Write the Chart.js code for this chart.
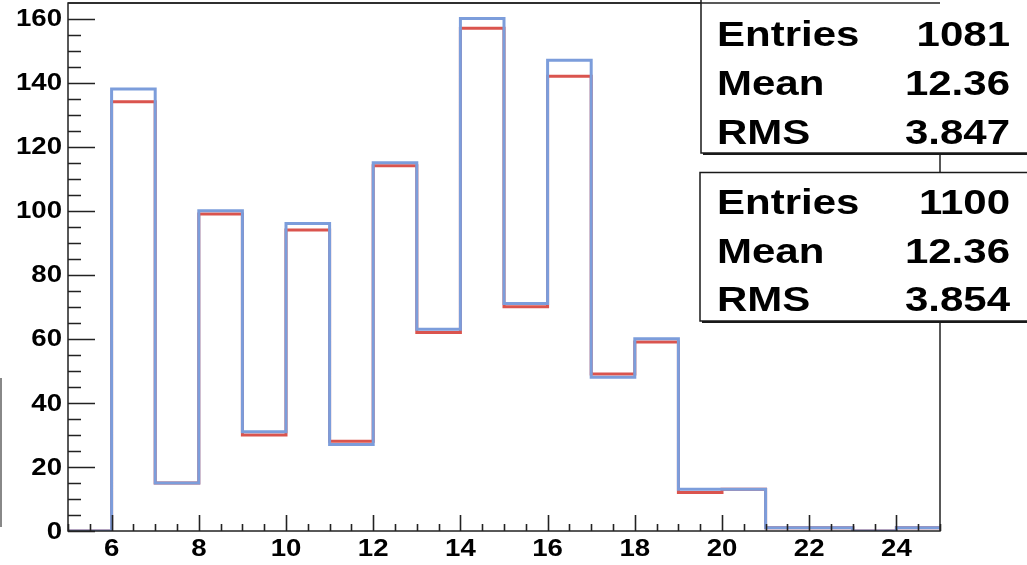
<!DOCTYPE html>
<html>
<head>
<meta charset="utf-8">
<script src="https://cdn.jsdelivr.net/npm/chart.js@4"></script>
<style>
  html, body { margin: 0; padding: 0; background: #fff; }
  #wrap { position: relative; width: 1027px; height: 565px; }
</style>
</head>
<body>
<div id="wrap"><canvas id="histChart"></canvas></div>
<script>
// bin edges (width 1) and bin contents of the two histograms
const binEdges = [5, 6, 7, 8, 9, 10, 11, 12, 13, 14, 15, 16, 17, 18, 19, 20, 21, 22, 23, 24, 25];
const countsRed = [0, 134, 15, 99, 30, 94, 28, 114, 62, 157, 70, 142, 49, 59, 12, 13, 1, 1, 0, 1];
const countsBlue = [0, 138, 15, 100, 31, 96, 27, 115, 63, 160, 71, 147, 48, 60, 13, 13, 1, 1, 0, 1];

const xTickLabels = [6, 8, 10, 12, 14, 16, 18, 20, 22, 24];
const yTickLabels = [0, 20, 40, 60, 80, 100, 120, 140, 160];

const statsRed = [['Entries', '1081'], ['Mean', '12.36'], ['RMS', '3.847']];
const statsBlue = [['Entries', '1100'], ['Mean', '12.36'], ['RMS', '3.854']];

const RED = 'rgb(218, 84, 78)';
const BLUE = 'rgb(124, 157, 219)';
const FONT = '"Liberation Sans", Arial, sans-serif';

// step outline: each edge carries the content of the bin starting there
function toSteps(counts) {
    return binEdges.map((x, i) => ({ x: x, y: counts[Math.min(i, counts.length - 1)] }));
}

// text a bit wider than the font, like the rest of the drawing
function wideText(ctx, text, x, y, align, stretch) {
    ctx.save();
    ctx.translate(x, y);
    ctx.scale(stretch, 1);
    ctx.textAlign = align;
    ctx.fillText(text, 0, 0);
    ctx.restore();
}

function drawStatsBox(ctx, rows, left, top, bottom, baselines) {
    const right = 1032;
    ctx.save();
    ctx.fillStyle = '#1a1a1a';
    ctx.fillRect(left + 2, top + 2, right - left, bottom - top);
    ctx.fillStyle = '#fff';
    ctx.fillRect(left, top, right - left, bottom - top);
    ctx.strokeStyle = '#1a1a1a';
    ctx.lineWidth = 1.5;
    ctx.strokeRect(left, top, right - left, bottom - top);

    ctx.fillStyle = '#000';
    ctx.font = 'bold 35px ' + FONT;
    ctx.textBaseline = 'alphabetic';
    rows.forEach((row, i) => {
        wideText(ctx, row[0], 717, baselines[i], 'left', 1.2);
        wideText(ctx, row[1], 1010, baselines[i], 'right', 1.2);
    });
    ctx.restore();
}

// frame, inward tick marks, axis labels and the two stats boxes
const rootFrame = {
    id: 'rootFrame',
    afterDraw(chart) {
        const ctx = chart.ctx;
        const a = chart.chartArea;
        const xs = chart.scales.x;
        const ys = chart.scales.y;
        ctx.save();
        ctx.strokeStyle = '#222';
        ctx.lineWidth = 1.5;
        ctx.strokeRect(a.left, a.top, a.right - a.left, a.bottom - a.top);

        ctx.lineWidth = 1.6;
        ctx.beginPath();
        for (let v = 0; v <= 160; v += 5) {
            const y = Math.round(ys.getPixelForValue(v)) + 0.5;
            const len = v % 20 === 0 ? 27 : 13;
            ctx.moveTo(a.left, y);
            ctx.lineTo(a.left + len, y);
        }
        for (let v = 5; v <= 25; v += 0.5) {
            const x = Math.round(xs.getPixelForValue(v)) + 0.5;
            const len = v % 2 === 0 ? 16 : 7;
            ctx.moveTo(x, a.bottom);
            ctx.lineTo(x, a.bottom - len);
        }
        ctx.stroke();

        // tick labels taken from the scales' own ticks
        ctx.fillStyle = '#000';
        ctx.font = 'bold 24px ' + FONT;
        ctx.textBaseline = 'middle';
        ys.ticks.forEach(t => {
            wideText(ctx, String(t.value), a.left - 6, ys.getPixelForValue(t.value) + 1, 'right', 1.15);
        });
        xs.ticks.forEach(t => {
            wideText(ctx, String(t.value), xs.getPixelForValue(t.value), a.bottom + 18, 'center', 1.15);
        });

        // stray axis line at the left border
        ctx.strokeStyle = '#888';
        ctx.lineWidth = 2;
        ctx.beginPath();
        ctx.moveTo(1, 378);
        ctx.lineTo(1, 527);
        ctx.stroke();
        ctx.restore();

        drawStatsBox(ctx, statsRed, 701, -6, 153, [46, 95, 144]);
        drawStatsBox(ctx, statsBlue, 700, 172.5, 321, [214, 263, 311]);

        // top frame line runs over the first box
        ctx.save();
        ctx.strokeStyle = '#222';
        ctx.lineWidth = 1.5;
        ctx.beginPath();
        ctx.moveTo(a.left, a.top);
        ctx.lineTo(a.right, a.top);
        ctx.stroke();
        ctx.restore();
    }
};

document.addEventListener('DOMContentLoaded', function () {
    const ctx = document.getElementById('histChart').getContext('2d');

    new Chart(ctx, {
        type: 'line',
        data: {
            datasets: [
                {
                    label: 'h2',
                    data: toSteps(countsBlue),
                    stepped: true,
                    borderColor: BLUE,
                    borderWidth: 3,
                    pointRadius: 0,
                    fill: false
                },
                {
                    label: 'h1',
                    data: toSteps(countsRed),
                    stepped: true,
                    borderColor: RED,
                    borderWidth: 3,
                    pointRadius: 0,
                    fill: false
                }
            ]
        },
        options: {
            responsive: true,
            maintainAspectRatio: false,
            animation: false,
            layout: { padding: { top: 3, right: 87, left: 0, bottom: 0 } },
            plugins: {
                legend: { display: false },
                tooltip: { enabled: false }
            },
            scales: {
                x: {
                    type: 'linear',
                    min: 5,
                    max: 25,
                    grid: { display: false, drawTicks: false },
                    border: { display: false },
                    ticks: { display: false },
                    afterBuildTicks(scale) {
                        scale.ticks = xTickLabels.map(v => ({ value: v }));
                    },
                    afterFit(scale) {
                        scale.height = 34;
                        scale.paddingLeft = 0;
                        scale.paddingRight = 0;
                    }
                },
                y: {
                    min: 0,
                    max: 164.85,
                    grid: { display: false, drawTicks: false },
                    border: { display: false },
                    ticks: { display: false },
                    afterBuildTicks(scale) {
                        scale.ticks = yTickLabels.map(v => ({ value: v }));
                    },
                    afterFit(scale) {
                        scale.width = 68;
                        scale.paddingTop = 0;
                        scale.paddingBottom = 0;
                    }
                }
            }
        },
        plugins: [rootFrame]
    });
});
</script>
</body>
</html>
